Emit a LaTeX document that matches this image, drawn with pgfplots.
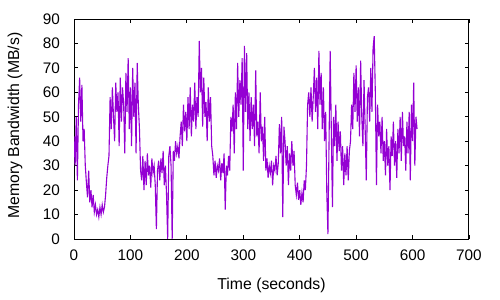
\documentclass[border=0pt]{standalone}
\usepackage{fontspec}
\setmainfont{Liberation Sans}
\usepackage{pgfplots}
\pgfplotsset{compat=1.18}
\definecolor{dviolet}{HTML}{9400D3}
\begin{document}
\fontsize{15bp}{18bp}\selectfont
\begin{tikzpicture}
\useasboundingbox (0,0) rectangle (500bp,300bp);
\begin{axis}[
  at={(74bp,61bp)}, anchor=south west,
  scale only axis, width=395bp, height=220bp,
  xmin=0, xmax=700, ymin=0, ymax=90,
  xtick={0,100,...,700}, ytick={0,10,...,90},
  tick align=inside, major tick length=4bp,
  tick style={black, line width=0.8bp},
  axis line style={black, line width=1bp},
  /pgf/number format/assume math mode=true,
  ticklabel style={font=\fontsize{15.3bp}{18bp}\selectfont},
  yticklabel style={anchor=east, inner sep=0pt, xshift=-14bp},
  xticklabel style={anchor=north, inner sep=0pt, yshift=-11bp},
  xlabel={Time (seconds)}, ylabel={Memory Bandwidth (MB/s)},
  label style={font=\fontsize{15.8bp}{18bp}\selectfont},
  xlabel style={at={(axis description cs:0.5,-0.209)}, anchor=center},
  ylabel style={at={(axis description cs:-0.149,0.515)}, anchor=center},
]
\addplot[color=dviolet, line width=1.1bp, mark=none] table {
x y
0 42
2 30
4 50
6 24
8 55
10 66
12 48
14 63
16 40
18 45
20 30
22 23
24 17
26 28
28 15
30 20
32 13
34 18
36 11
38 14
40 10
42 12
44 9
46 13
48 10
50 14
52 11
54 13
56 18
58 25
60 30
62 34
64 58
66 45
68 62
70 50
72 40
74 64
76 52
78 60
80 38
82 66
84 48
86 62
88 55
90 35
92 68
94 52
96 74
98 45
100 62
102 38
104 70
106 50
108 64
110 35
112 72
114 55
116 45
118 28
120 24
122 34
124 20
126 32
128 22
130 35
132 26
134 30
136 21
138 33
140 27
142 30
144 22
146 4
148 28
150 32
152 24
154 33
156 27
158 36
160 22
162 30
164 18
166 0
168 34
170 38
172 30
174 0
176 36
178 32
180 40
182 35
184 38
186 33
188 42
190 48
192 38
194 55
196 44
198 52
200 40
202 58
204 45
206 62
208 42
210 55
212 48
214 64
216 45
218 58
220 50
222 81
224 60
226 70
228 46
230 66
232 50
234 56
236 40
238 62
240 48
242 58
244 38
246 34
248 26
250 32
252 25
254 30
256 28
258 33
260 24
262 31
264 27
266 35
268 12
270 30
272 26
274 34
276 28
278 50
280 44
282 55
284 35
286 60
288 45
290 72
292 50
294 65
296 55
298 74
300 28
302 79
304 52
306 76
308 45
310 60
312 40
314 58
316 45
318 55
320 38
322 69
324 42
326 48
328 35
330 60
332 40
334 46
336 32
338 50
340 28
342 33
344 25
346 30
348 27
350 32
352 22
354 30
356 28
358 34
360 26
362 31
364 47
366 35
368 50
370 9
372 46
374 40
376 30
378 38
380 22
382 35
384 28
386 40
388 30
390 36
392 22
394 18
396 23
398 16
400 20
402 14
404 19
406 15
408 24
410 20
412 30
414 55
416 60
418 50
420 62
422 48
424 58
426 70
428 52
430 66
432 45
434 77
436 55
438 68
440 45
442 62
444 40
446 52
448 19
450 2
452 40
454 77
456 45
458 13
460 50
462 38
464 55
466 32
468 48
470 36
472 44
474 28
476 38
478 22
480 35
482 26
484 38
486 24
488 36
490 40
492 55
494 45
496 68
498 52
500 71
502 48
504 62
506 42
508 73
510 50
512 38
514 65
516 45
518 24
520 58
522 62
524 48
526 70
528 52
530 78
532 83
534 60
536 22
538 55
540 42
542 48
544 35
546 50
548 32
550 40
552 26
554 45
556 30
558 38
560 20
562 42
564 34
566 48
568 30
570 40
572 25
574 45
576 35
578 50
580 32
582 52
584 38
586 42
588 28
590 48
592 35
594 52
596 24
598 55
600 40
602 64
604 30
606 50
608 45
};
\end{axis}
\end{tikzpicture}
\end{document}
